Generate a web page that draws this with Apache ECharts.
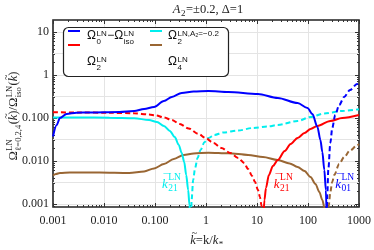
<!DOCTYPE html>
<html><head><meta charset="utf-8">
<script src="https://cdn.jsdelivr.net/npm/echarts@6/dist/echarts.min.js"></script>
<style>html,body{margin:0;padding:0;background:#fff}#c{width:374px;height:250px}</style>
</head><body><div id="c"></div>
<script>
// ---------- data ----------
const xTickValues = [0.001, 0.01, 0.1, 1, 10, 100, 1000];
const xTickLabels = ['0.001', '0.010', '0.100', '1', '10', '100', '1000'];
const yTickValues = [0.001, 0.01, 0.1, 1, 10];
const yTickLabels = ['0.001', '0.010', '0.100', '1', '10'];
const xRange = [0.001, 1000];
const yRange = [0.00085, 19];

// Omega0 - Omega_iso : positive part (solid) and negative part (dashed, |value|)
const kBluePos = [0.001,0.00118,0.001367,0.001845,0.00288,0.00522,0.02,0.0391,0.0611,0.0957,0.1496,0.2138,0.334,0.571,1.12,2.74,10.4,25.6,62.5,97.7,122,153,175,191,209,224,232];
const oBluePos = [0.037,0.0687,0.1,0.124,0.1327,0.1343,0.138,0.1455,0.162,0.18,0.248,0.308,0.381,0.413,0.425,0.403,0.362,0.292,0.223,0.171,0.124,0.0618,0.0308,0.0162,0.00618,0.00212,0.00055];
const kBlueNeg = [234,239,250,274,299,342,409,512,668,914,1000];
const oBlueNeg = [0.00055,0.00162,0.00618,0.0262,0.0585,0.1175,0.2,0.308,0.448,0.618,0.67];

// Omega2 (A2=+0.2)
const kRedNeg = [0.001,0.00334,0.0128,0.0391,0.0763,0.1045,0.1496,0.2138,0.3055,0.457,0.714,0.977,1.40,2.0,2.99,4.28,5.59,6.68,8.0,9.14,10.45,11.4,12.2,12.8];
const oRedNeg = [0.1358,0.1343,0.1321,0.1286,0.1205,0.1143,0.1027,0.0898,0.0724,0.0571,0.0425,0.0343,0.0262,0.0201,0.01535,0.01175,0.00898,0.00652,0.00448,0.00325,0.00212,0.00146,0.00095,0.00055];
const kRedPos = [13.4,14.0,15.0,17.1,20.5,25.6,35.0,45.7,62.5,85.5,112,153,274,468,1000];
const oRedPos = [0.00055,0.00124,0.00236,0.00472,0.00765,0.01055,0.0171,0.0248,0.0343,0.0448,0.0555,0.0652,0.0851,0.1,0.1175];

// Omega2 (A2=-0.2)
const kCyanPos = [0.001,0.00334,0.0128,0.0391,0.0763,0.1094,0.1496,0.1954,0.2443,0.2924,0.334,0.374,0.409,0.447,0.474,0.489];
const oCyanPos = [0.1027,0.1027,0.1011,0.0985,0.0898,0.0807,0.0652,0.0499,0.0361,0.0236,0.01535,0.00948,0.00472,0.00212,0.00095,0.00055];
const kCyanNeg = [0.512,0.522,0.560,0.611,0.684,0.782,0.936,1.12,1.46,2.19,4.28,8.36,16.4,25.6,62.5,112,209,468,1000];
const oCyanNeg = [0.00055,0.00124,0.00361,0.00687,0.01175,0.018,0.0277,0.0343,0.0403,0.046,0.0512,0.0585,0.0634,0.0687,0.0851,0.1054,0.1273,0.1455,0.16];

// Omega4
const kBrownPos = [0.001,0.001143,0.001367,0.00214,0.00819,0.0313,0.0611,0.0957,0.1496,0.234,0.366,0.571,1.12,2.74,6.68,13.1,25.6,43.7,62.5,85.5,112,140,167,191,209,222];
const oBrownPos = [0.0046,0.00499,0.00526,0.00541,0.00541,0.00526,0.0057,0.0067,0.00851,0.01114,0.0138,0.01494,0.0156,0.0151,0.0138,0.0124,0.01055,0.00875,0.00725,0.00585,0.00425,0.00292,0.0019,0.00124,0.00085,0.00055];
const kBrownNeg = [248,256,274,299,327,409,512,668,914,1000];
const oBrownNeg = [0.00055,0.00095,0.0019,0.00325,0.00472,0.00851,0.0124,0.01754,0.0229,0.0248];

// zero-crossing annotations (anchor k, Omega)
const annoK = [0.137, 21.4, 342];
const annoV = [0.00277, 0.00277, 0.00277];
const annoSub = ['21', '21', '01'];

// ---------- helpers ----------
const L = Math.log10;
const C = {blue:'#0000ff', red:'#ff0000', cyan:'#00eeee', brown:'#996633'};
const SERIF = 'Liberation Serif', SANS = 'Liberation Sans';
const X0 = L(xRange[0]), X1 = L(xRange[1]), Y0 = L(yRange[0]), Y1 = L(yRange[1]);
const xMajor = xTickValues.map(L);
const yMajor = yTickValues.map(L);
const xMinor = [], yMinor = [];
for (let d = Math.floor(X0); d < X1; d++) for (let m = 2; m <= 9; m++) { const v = d + L(m); if (v > X0 && v < X1) xMinor.push(v); }
for (let d = Math.floor(Y0); d < Y1; d++) for (let m = 2; m <= 9; m++) { const v = d + L(m); if (v > Y0 && v < Y1) yMinor.push(v); }
const xGrid = xMajor.filter(v => v > X0 + 1e-9 && v < X1 - 1e-9);
const yGrid = [];
yMajor.forEach(v => { yGrid.push(v); if (v + 0.5 < Y1) yGrid.push(v + 0.5); });
function lbl(list, labels) { return v => { for (let i = 0; i < list.length; i++) if (Math.abs(list[i] - v) < 1e-6) return labels[i]; return ''; }; }
function pts(k, o) { return k.map((kk, i) => [L(kk), L(o[i])]); }

const TICK = '#333';
function tickAxis(pos, vals, len, isX) {
  return {type:'value', position:pos, min: isX?X0:Y0, max: isX?X1:Y1,
    axisLine:{show:false, onZero:false}, axisLabel:{show:false}, splitLine:{show:false},
    axisTick:{show:true, inside:true, length:len, customValues:vals, lineStyle:{color:TICK, width:1}}};
}

function ser(name, k, o, color, dashed) {
  return {type:'line', name, data:pts(k, o), xAxisIndex:0, yAxisIndex:0, symbol:'none',
    smooth:0.3, smoothMonotone:'x', clip:true, color,
    lineStyle:{color, width:2, type: dashed ? [5,3] : 'solid'}, z:3};
}
const N_BLUE = 'Ω0−Ωiso', N_RED = 'Ω2', N_CYAN = 'Ω2 (A2=−0.2)', N_BROWN = 'Ω4';

const chart = echarts.init(document.getElementById('c'), null, {renderer:'canvas'});
chart.setOption({
  animation:false,
  backgroundColor:'#fff',
  grid:{left:53, right:12, top:20, bottom:43, show:true, borderColor:'#222', borderWidth:1.6, backgroundColor:'transparent'},
  xAxis:[
    {type:'value', position:'bottom', min:X0, max:X1, axisLine:{show:false, onZero:false},
      axisTick:{show:false, customValues:xGrid},
      axisLabel:{customValues:xMajor, formatter:lbl(xMajor, xTickLabels), margin:8, fontFamily:SERIF, fontSize:12, color:'#222', showMinLabel:true, showMaxLabel:true},
      splitLine:{show:true, lineStyle:{color:'#e4e4e4', width:1}}},
    tickAxis('bottom', xMajor, 4, true), tickAxis('bottom', xMinor, 2, true),
    tickAxis('top', xMajor, 4, true), tickAxis('top', xMinor, 2, true)
  ],
  yAxis:[
    {type:'value', position:'left', min:Y0, max:Y1, axisLine:{show:false, onZero:false},
      axisTick:{show:false, customValues:yGrid},
      axisLabel:{customValues:yMajor, formatter:lbl(yMajor, yTickLabels), margin:4, fontFamily:SERIF, fontSize:12, color:'#222'},
      splitLine:{show:true, lineStyle:{color:'#e4e4e4', width:1}}},
    tickAxis('left', yMajor, 4, false), tickAxis('left', yMinor, 2, false),
    tickAxis('right', yMajor, 4, false), tickAxis('right', yMinor, 2, false)
  ],
  legend:[
    {data:[N_BLUE, N_RED], orient:'vertical', left:68, top:30, padding:0, itemWidth:12, itemHeight:2, itemGap:12,
      icon:'rect', formatter:() => '', textStyle:{fontSize:12, lineHeight:14}, selectedMode:false, z:6},
    {data:[N_CYAN, N_BROWN], orient:'vertical', left:150, top:30, padding:0, itemWidth:12, itemHeight:2, itemGap:12,
      icon:'rect', formatter:() => '', textStyle:{fontSize:12, lineHeight:14}, selectedMode:false, z:6}
  ],
  series:[
    ser(N_BROWN, kBrownPos, oBrownPos, C.brown, false),
    ser(N_BROWN + ' neg', kBrownNeg, oBrownNeg, C.brown, true),
    ser(N_CYAN, kCyanPos, oCyanPos, C.cyan, false),
    ser(N_CYAN + ' neg', kCyanNeg, oCyanNeg, C.cyan, true),
    ser(N_RED, kRedPos, oRedPos, C.red, false),
    ser(N_RED + ' neg', kRedNeg, oRedNeg, C.red, true),
    ser(N_BLUE, kBluePos, oBluePos, C.blue, false),
    ser(N_BLUE + ' neg', kBlueNeg, oBlueNeg, C.blue, true)
  ]
});

// ---------- math-style text built from pieces ----------
const mctx = document.createElement('canvas').getContext('2d');
function tw(t, f) { mctx.font = f; return mctx.measureText(t).width; }
function fnt(size, fam, it) { return (it ? 'italic ' : '') + size + 'px "' + fam + '"'; }
function txt(x, y, t, f, color, align, z) {
  return {type:'text', x, y, z, silent:true,
    style:{text:t, font:f, fill:color, align:align, textAlign:align, verticalAlign:'middle', textVerticalAlign:'middle'}};
}
function mathText(parts, o) {
  const els = []; let cx = 0; const z = o.z || 10;
  parts.forEach(p => {
    const bf = fnt(o.size, o.fam, p.it);
    const bw = p.t ? tw(p.t, bf) : 0;
    if (p.t) els.push(txt(cx, 0, p.t, bf, o.color, 'left', z));
    if (p.acc) els.push(txt(cx + bw / 2 + (p.it ? o.size * 0.1 : 0), -o.size * (o.accDy || 0.62), p.acc, fnt(o.size * 0.8, o.fam, false), o.color, 'center', z));
    cx += bw;
    let sw = 0;
    if (p.sup) { const f = fnt(o.ssize, o.fam, false); sw = Math.max(sw, tw(p.sup, f)); els.push(txt(cx + 0.5, o.supDy * o.size, p.sup, f, o.color, 'left', z)); }
    if (p.sub) { const f = fnt(o.ssize, o.fam, p.subIt); sw = Math.max(sw, tw(p.sub, f)); els.push(txt(cx + 0.5, o.subDy * o.size, p.sub, f, o.color, 'left', z)); }
    cx += sw ? sw + 1 : 0;
  });
  const off = o.align === 'center' ? -cx / 2 : (o.align === 'right' ? -cx : 0);
  els.forEach(e => { e.x += off; });
  return {type:'group', x:o.x, y:o.y, rotation:o.rotation || 0, z, children:els};
}

const legOpt = {size:12, ssize:8, fam:SANS, color:'#111', supDy:-0.2, subDy:0.45, z:8};
const graphics = [
  {type:'rect', shape:{x:63.5, y:27.5, width:165, height:49, r:5}, z:5, silent:true,
    style:{fill:'#fff', stroke:'#222', lineWidth:1.2}},
  mathText([{t:'Ω', sup:'LN', sub:'0'}, {t:'−'}, {t:'Ω', sup:'LN', sub:'iso'}], Object.assign({x:87, y:36}, legOpt)),
  mathText([{t:'Ω', sup:'LN', sub:'2'}], Object.assign({x:87, y:62}, legOpt)),
  mathText([{t:'Ω', sup:'LN,A₂=−0.2', sub:'2'}], Object.assign({x:168, y:36}, legOpt)),
  mathText([{t:'Ω', sup:'LN', sub:'4'}], Object.assign({x:168, y:62}, legOpt)),
  // title
  mathText([{t:'A', it:true, sub:'2'}, {t:'=±0.2, Δ=1'}], {x:208, y:10, size:12.5, ssize:9, fam:SERIF, color:'#222', supDy:-0.3, subDy:0.3, align:'center'}),
  // x axis name
  mathText([{t:'k', it:true, acc:'~'}, {t:'=k/'}, {t:'k', it:true, sub:'*'}], {x:207, y:241, size:12.5, ssize:9, fam:SERIF, color:'#222', supDy:-0.3, subDy:0.3, accDy:0.62, align:'center'}),
  // y axis name
  mathText([{t:'Ω', sup:'LN', sub:'ℓ=0,2,4'}, {t:'('}, {t:'k', it:true, acc:'~'}, {t:')/'}, {t:'Ω', sup:'LN', sub:'iso'}, {t:'('}, {t:'k', it:true, acc:'~'}, {t:')'}],
    {x:14, y:116, size:12.5, ssize:8.5, fam:SERIF, color:'#222', supDy:-0.3, subDy:0.35, accDy:0.62, align:'center', rotation:Math.PI / 2})
];
const annoColors = [C.cyan, C.red, C.blue];
annoK.forEach((k, i) => {
  const p = chart.convertToPixel({xAxisIndex:0, yAxisIndex:0}, [L(k), L(annoV[i])]);
  graphics.push(mathText([{t:'k', it:true, acc:'¯', sup:'LN', sub:annoSub[i]}],
    {x:p[0], y:p[1], size:13, ssize:9.5, fam:SERIF, color:annoColors[i], supDy:-0.6, subDy:0.3, accDy:0.55, z:9}));
});
chart.setOption({graphic:graphics});
</script></body></html>
